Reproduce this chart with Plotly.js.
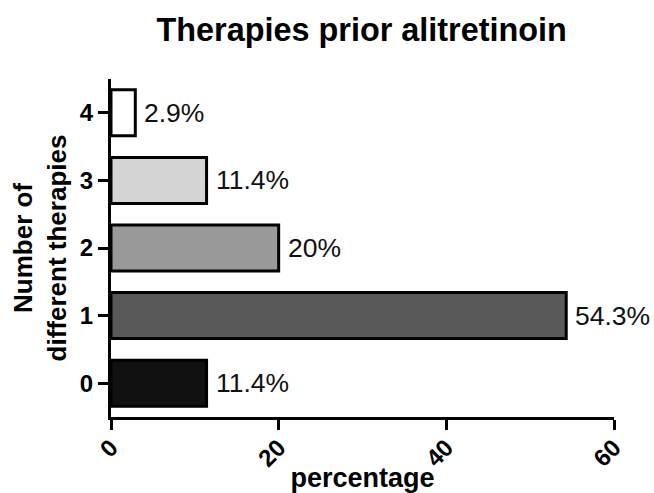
<!DOCTYPE html>
<html><head><meta charset="utf-8">
<script src="https://cdn.plot.ly/plotly-3.0.1.min.js"></script>
<style>html,body{margin:0;padding:0;background:#fff}#chart{width:654px;height:493px}</style>
</head><body><div id="chart"></div>
<script>
const categories = [0, 1, 2, 3, 4];
const percentages = [11.4, 54.3, 20, 11.4, 2.9];
const labels = ["11.4%", "54.3%", "20%", "11.4%", "2.9%"];
const barColors = ["#111111", "#595959", "#999999", "#d4d4d4", "#ffffff"];
const xTicks = [0, 20, 40, 60];

const FONT = "Liberation Sans, Arial, sans-serif";
const trace = {
  type: "bar", orientation: "h",
  x: percentages, y: categories,
  width: 0.68,
  marker: {color: barColors, line: {color: "#000", width: 3}},
  hoverinfo: "none"
};
const annotations = categories.map((c, i) => ({
  x: percentages[i], y: c, xref: "x", yref: "y",
  text: labels[i], showarrow: false, xanchor: "left", xshift: 7,
  font: {family: FONT, size: 26.5, color: "#111"}
}));
const layout = {
  width: 654, height: 493,
  margin: {l: 111, r: 40, t: 79, b: 76},
  paper_bgcolor: "#fff", plot_bgcolor: "#fff",
  showlegend: false,
  title: {text: "<b>Therapies prior alitretinoin</b>", x: 0.553, xanchor: "center", y: 0.94, yanchor: "middle",
    font: {family: FONT, size: 32.4, color: "#000"}},
  xaxis: {range: [0, 60], tickvals: xTicks, ticktext: xTicks.map(String), tickangle: -45,
    showgrid: false, zeroline: false, showline: true, linecolor: "#000", linewidth: 3,
    ticks: "outside", ticklen: 10, tickwidth: 3, tickcolor: "#000", ticklabelstandoff: -6,
    tickfont: {family: FONT, size: 24, color: "#000", weight: "bold"},
    title: {text: "<b>percentage</b>", standoff: 0,
      font: {family: FONT, size: 27, color: "#000"}}},
  yaxis: {range: [-0.5, 4.5], tickvals: categories, ticktext: categories.map(String),
    showgrid: false, zeroline: false, showline: true, linecolor: "#000", linewidth: 3,
    ticks: "outside", ticklen: 10, tickwidth: 3, tickcolor: "#000",
    tickfont: {family: FONT, size: 24, color: "#000", weight: "bold"},
    title: {text: "<b>Number of<br>different therapies</b>", standoff: 6,
      font: {family: FONT, size: 26, color: "#000"}}},
  annotations: annotations
};
Plotly.newPlot("chart", [trace], layout, {displayModeBar: false, staticPlot: true});
</script></body></html>
